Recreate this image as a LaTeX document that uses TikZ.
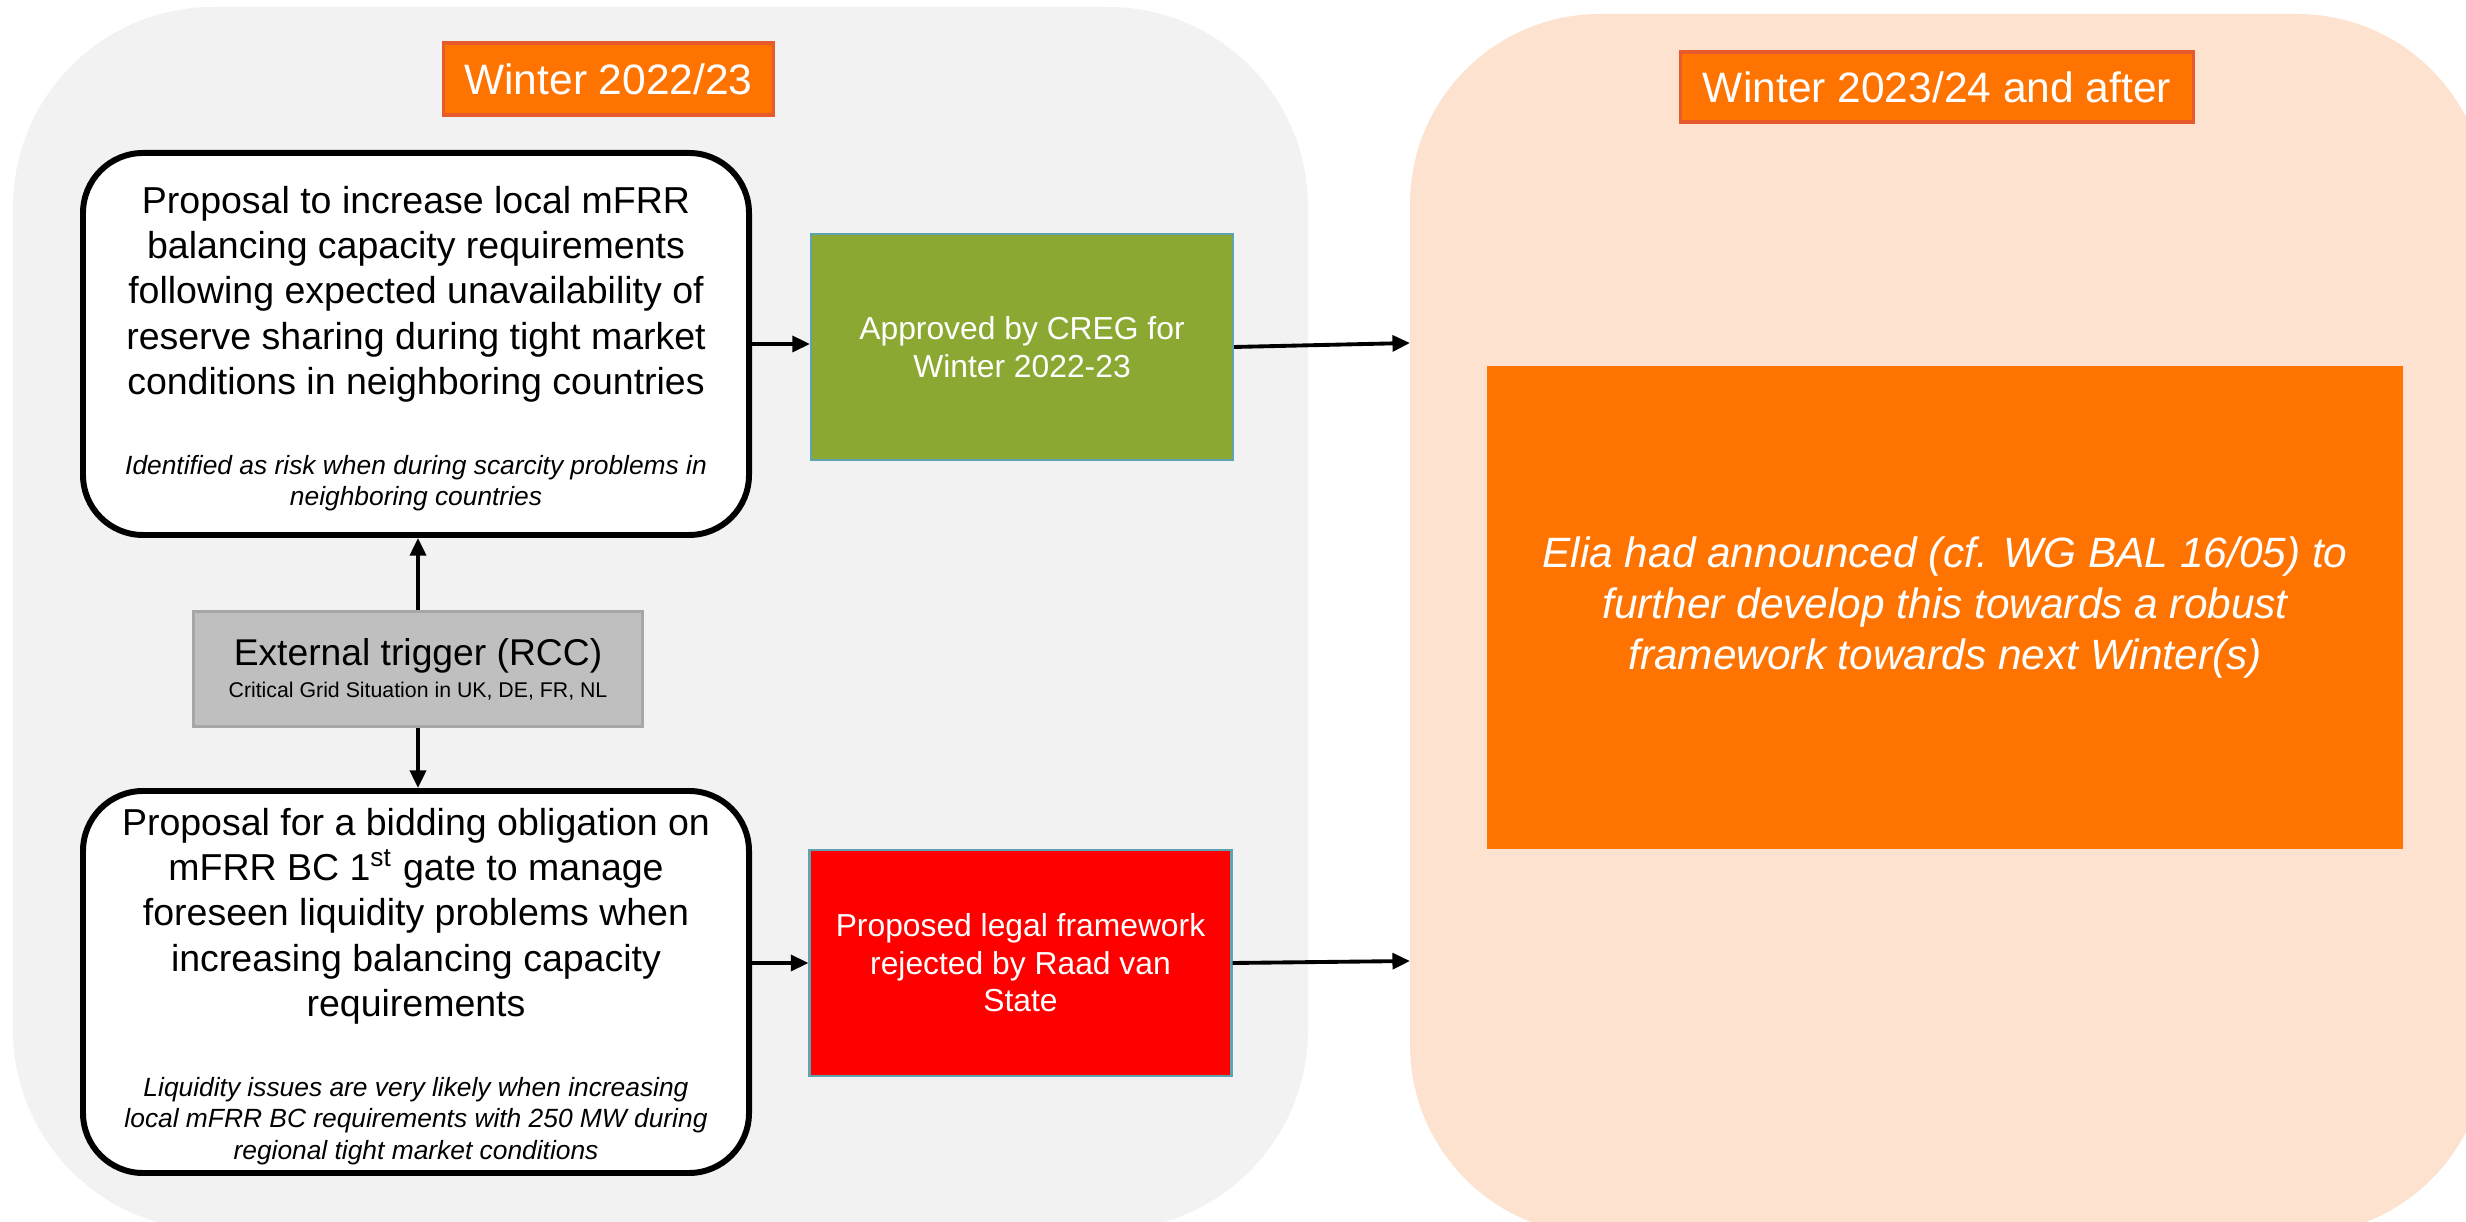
\documentclass[tikz,border=0pt]{standalone}
\usepackage{fontspec}
\setmainfont{Liberation Sans}
\usepackage{tikz}
\usetikzlibrary{arrows.meta}
\usepackage{xcolor}
\definecolor{fondgris}{HTML}{F2F2F2}
\definecolor{fondpeche}{HTML}{FDE3CF}
\definecolor{orangeelia}{HTML}{FF7300}
\definecolor{bordtitre}{HTML}{E65A2B}
\definecolor{vertcreg}{HTML}{8BA832}
\definecolor{bordbleu}{HTML}{5EA3B0}
\definecolor{grisboite}{HTML}{BFBFBF}
\definecolor{grisbord}{HTML}{A6A6A6}
\newcommand{\taille}[2]{\fontsize{#1}{#2}\selectfont}

\begin{document}
\begin{tikzpicture}[
    titre/.style={fill=orangeelia, draw=bordtitre, line width=1pt, text=white, font=\taille{12.1}{14}},
    boite/.style={draw, line width=1.7pt, fill=white, rounded corners=0.6cm, minimum width=6.66cm, minimum height=3.82cm},
    principal/.style={align=center, inner sep=0pt, font=\taille{10.67}{12.9}},
    note/.style={align=center, inner sep=0pt, font=\itshape\taille{7.5}{8.9}},
    decision/.style={draw=bordbleu, line width=0.6pt, text=white, align=center, inner sep=0pt, minimum width=4.22cm, minimum height=2.26cm, font=\taille{9.05}{10.7}},
    fleche/.style={line width=1.1pt, -{Triangle[length=5pt,width=4.5pt]}}]
    % cadre
    \useasboundingbox (0,0) rectangle (24.66,12.21);
    \clip (0,0) rectangle (24.66,12.21);
    % panneaux
    \fill[fondgris, rounded corners=2cm] (0.13,-0.09) rectangle (13.08,12.14);
    \fill[fondpeche, rounded corners=1.9cm] (14.10,-0.14) rectangle (24.87,12.07);
    % titres
    \node[titre, minimum width=3.3cm, minimum height=0.72cm] (t1) at (6.085,11.42) {Winter 2022/23};
    \node[titre, minimum width=5.13cm, minimum height=0.70cm] (t2) at (19.37,11.34) {Winter 2023/24 and after};
    % boîtes de gauche
    \node[boite] (prop1) at (4.16,8.77) {};
    \node[principal] (prop1txt) at (4.16,9.27) {Proposal to increase local mFRR\\ balancing capacity requirements\\ following expected unavailability of\\ reserve sharing during tight market\\ conditions in neighboring countries};
    \node[note] (note1) at (4.16,7.38) {Identified as risk when during scarcity problems in\\ neighboring countries};
    \node[boite] (prop2) at (4.16,2.39) {};
    \node[principal] (prop2txt) at (4.16,3.05) {Proposal for a bidding obligation on\\ mFRR BC 1\textsuperscript{st} gate to manage\\ foreseen liquidity problems when\\ increasing balancing capacity\\ requirements};
    \node[note] (note2) at (4.16,1.00) {Liquidity issues are very likely when increasing\\ local mFRR BC requirements with 250 MW during\\ regional tight market conditions};
    \node[fill=grisboite, draw=grisbord, line width=1pt, minimum width=4.49cm, minimum height=1.15cm, align=center, inner sep=0pt, font=\taille{6.06}{9.1}] (trig) at (4.18,5.52) {{\taille{10.6}{9.1}External trigger (RCC)}\\ Critical Grid Situation in UK, DE, FR, NL};
    % décisions
    \node[decision, fill=vertcreg] (ok) at (10.22,8.74) {Approved by CREG for\\ Winter 2022-23};
    \node[decision, fill=red] (rejet) at (10.205,2.58) {Proposed legal framework\\ rejected by Raad van\\ State};
    % à droite
    \node[fill=orangeelia, minimum width=9.16cm, minimum height=4.83cm, inner sep=0pt, text=white, align=center, font=\itshape\taille{12.06}{14.4}] (elia) at (19.45,6.135) {Elia had announced (cf. WG BAL 16/05) to\\ further develop this towards a robust\\ framework towards next Winter(s)};
    % flèches
    \coordinate (bord1) at (14.10,8.78);
    \coordinate (bord2) at (14.10,2.60);
    \draw[fleche] (trig.north) -- (trig.north |- prop1.south);
    \draw[fleche] (trig.south) -- (trig.south |- prop2.north);
    \draw[fleche] (prop1.east) -- (prop1.east -| ok.west);
    \draw[fleche] (rejet.west -| prop2.east) -- (rejet.west);
    \draw[fleche] (ok.east) -- (bord1);
    \draw[fleche] (rejet.east) -- (bord2);
\end{tikzpicture}
\end{document}
